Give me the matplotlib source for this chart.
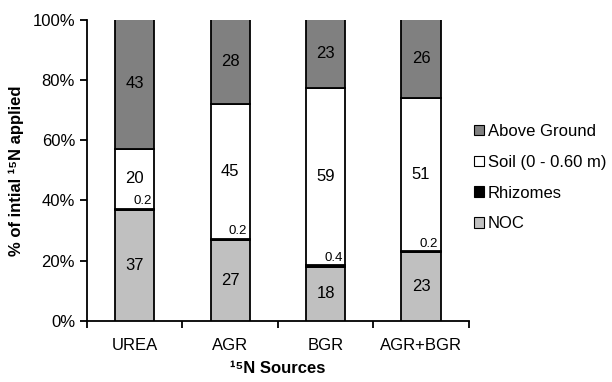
import matplotlib.pyplot as plt
import numpy as np

plt.rcParams['font.family'] = ['Liberation Sans', 'DejaVu Sans']

sources = ["UREA", "AGR", "BGR", "AGR+BGR"]
noc = [37, 27, 18, 23]
rhizomes = [0.2, 0.2, 0.4, 0.2]
soil = [20, 45, 59, 51]
above = [43, 28, 23, 26]

series = [("NOC", noc, "#c0c0c0"),
          ("Rhizomes", rhizomes, "#000000"),
          ("Soil (0 - 0.60 m)", soil, "#ffffff"),
          ("Above Ground", above, "#808080")]

fig = plt.figure(figsize=(6.12, 3.82), dpi=100)
ax = fig.add_axes([0.142, 0.160, 0.624, 0.788])

x = np.arange(len(sources))
width = 0.41
bottom = np.zeros(len(sources))
handles = []
for label, vals, col in series:
    vals = np.array(vals, dtype=float)
    b = ax.bar(x, vals, width, bottom=bottom, color=col, edgecolor="black",
               linewidth=1.3, label=label, zorder=3)
    handles.append(b)
    for i, v in enumerate(vals):
        if label == "Rhizomes":
            # small value sits just above the thin segment, right side of bar
            ax.text(x[i] + width / 2 - 0.025, bottom[i] + v + 0.5, f"{v:g}",
                    ha="right", va="bottom", fontsize=9.5, zorder=4)
        else:
            ax.text(x[i], bottom[i] + v / 2, f"{v:g}", ha="center",
                    va="center", fontsize=12, zorder=4)
    bottom += vals

ax.set_ylim(0, 100)
ax.set_xlim(-0.5, len(sources) - 0.5)
ax.set_yticks(np.arange(0, 101, 20))
ax.set_yticklabels([f"{v}%" for v in range(0, 101, 20)], fontsize=12)
ax.set_xticks(x)
ax.set_xticklabels(sources, fontsize=12)
ax.tick_params(axis="x", length=0, pad=12)
ax.set_xticks(np.arange(-0.5, len(sources)), minor=True)
ax.tick_params(axis="x", which="minor", length=5, width=1.3, direction="out")
ax.tick_params(axis="y", length=5, width=1.3, direction="out")
for s in ["top", "right"]:
    ax.spines[s].set_visible(False)
for s in ["left", "bottom"]:
    ax.spines[s].set_linewidth(1.3)

ax.set_ylabel("% of intial ¹⁵N applied", fontsize=12, fontweight="bold",
              labelpad=6)
ax.set_xlabel("¹⁵N Sources", fontsize=12, fontweight="bold", labelpad=6)

leg = fig.legend(handles[::-1], [s[0] for s in series][::-1],
                 loc="center left", bbox_to_anchor=(0.774, 0.535),
                 bbox_transform=fig.transFigure, frameon=False,
                 fontsize=12, handlelength=0.6, handleheight=0.6,
                 handletextpad=0.25, labelspacing=0.95, borderpad=0,
                 borderaxespad=0)
for h in leg.legend_handles:
    h.set_linewidth(0.8)

fig.savefig("out.png", dpi=100)
